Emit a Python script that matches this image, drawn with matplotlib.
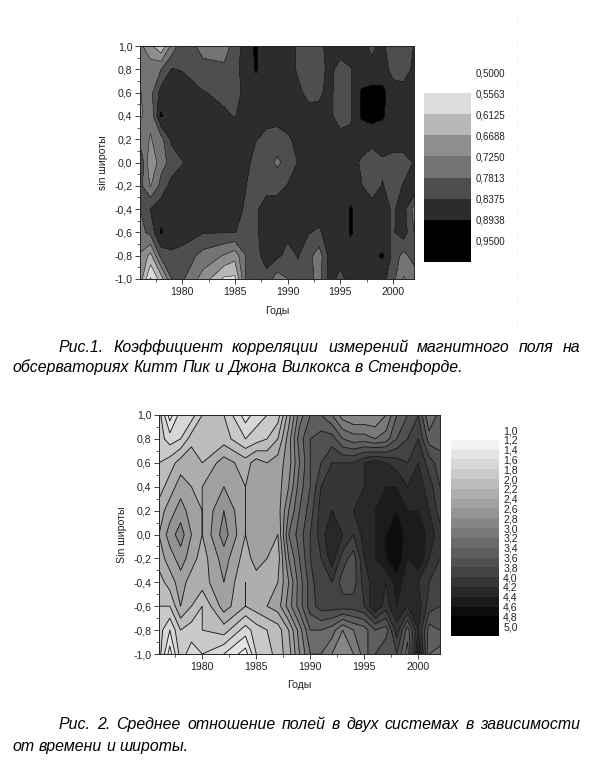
import numpy as np
import matplotlib
matplotlib.use("Agg")
import matplotlib.pyplot as plt
from matplotlib.colors import BoundaryNorm, ListedColormap

W, H = 592, 764

years = [1976, 1977, 1978, 1979, 1980, 1982, 1984, 1985, 1986, 1987, 1988, 1989, 1990,
         1991, 1992, 1993, 1994, 1995, 1996, 1997, 1998, 1999, 2000, 2001, 2002]
sin_lat = [1.0, 0.8, 0.6, 0.4, 0.2, 0.0, -0.2, -0.4, -0.6, -0.8, -1.0]

# Рис.1 - коэффициент корреляции
corr_rows = [
    [.74, .68, .62, .74, .82, .76, .76, .80, .87, .90, .86, .86, .86, .83, .81, .82, .86, .86, .86, .86, .82, .86, .78, .78, .84],
    [.74, .76, .78, .84, .835, .80, .79, .82, .86, .90, .86, .86, .86, .83, .81, .82, .85, .82, .835, .86, .86, .86, .82, .81, .85],
    [.72, .76, .86, .88, .86, .84, .825, .82, .85, .86, .86, .86, .86, .85, .82, .83, .85, .81, .83, .90, .91, .91, .86, .86, .86],
    [.72, .74, .90, .86, .86, .86, .845, .835, .86, .86, .86, .86, .86, .86, .86, .85, .85, .81, .83, .90, .91, .90, .865, .86, .86],
    [.76, .72, .76, .85, .86, .86, .86, .86, .86, .84, .82, .81, .83, .85, .86, .86, .86, .86, .85, .86, .86, .86, .86, .86, .84],
    [.84, .67, .76, .80, .835, .86, .86, .86, .86, .81, .81, .77, .80, .84, .86, .86, .86, .86, .86, .83, .80, .83, .82, .82, .84],
    [.80, .72, .80, .86, .86, .86, .87, .86, .84, .81, .82, .82, .84, .86, .86, .86, .86, .86, .86, .84, .81, .84, .82, .84, .89],
    [.78, .84, .87, .86, .86, .86, .88, .86, .83, .83, .86, .86, .86, .86, .86, .86, .86, .86, .90, .86, .86, .86, .83, .86, .76],
    [.76, .80, .90, .86, .86, .84, .84, .84, .81, .83, .86, .86, .85, .845, .84, .83, .86, .86, .90, .86, .86, .86, .83, .87, .78],
    [.72, .65, .80, .83, .82, .76, .72, .69, .78, .82, .86, .85, .82, .84, .80, .75, .86, .86, .86, .87, .88, .90, .82, .76, .81],
    [.70, .55, .64, .78, .79, .70, .60, .60, .78, .83, .82, .75, .78, .82, .80, .76, .86, .82, .86, .86, .86, .86, .80, .72, .74],
]
corr_levels = [0.5, 0.5563, 0.6125, 0.6688, 0.725, 0.7813, 0.8375, 0.8938, 0.95]
corr_labels = ["0,5000", "0,5563", "0,6125", "0,6688", "0,7250", "0,7813", "0,8375", "0,8938", "0,9500"]
corr_colors = ["#ffffff", "#dcdcdc", "#b8b8b8", "#8e8e8e", "#747474", "#4e4e4e", "#2c2c2c", "#000000"]

# Рис.2 - среднее отношение полей
ratio_rows = [
    [1.9, 1.3, 1.7, 1.7, 2.0, 2.0, 1.5, 1.7, 1.8, 1.9, 2.5, 3.1, 3.4, 3.4, 3.2, 2.9, 2.8, 2.8, 2.8, 3.0, 3.4, 3.6, 3.8, 3.2, 3.5],
    [1.9, 1.7, 1.8, 2.1, 2.2, 2.1, 1.8, 1.9, 2.0, 2.2, 2.7, 3.3, 3.6, 3.7, 3.7, 3.4, 3.3, 3.3, 3.2, 3.3, 3.6, 3.8, 4.0, 3.5, 3.5],
    [2.0, 2.1, 2.3, 2.4, 2.2, 2.5, 2.3, 2.5, 2.4, 2.5, 2.7, 3.2, 3.6, 3.8, 4.0, 4.0, 4.0, 4.2, 4.3, 4.2, 4.1, 4.0, 4.2, 3.9, 3.7],
    [2.1, 2.3, 2.5, 2.4, 2.4, 2.6, 2.4, 2.5, 2.5, 2.5, 2.8, 3.3, 3.6, 4.0, 4.1, 4.1, 4.2, 4.2, 4.3, 4.4, 4.4, 4.2, 4.3, 4.1, 3.8],
    [2.3, 2.5, 2.7, 2.5, 2.4, 2.8, 2.4, 2.5, 2.6, 2.5, 3.0, 3.4, 3.7, 4.1, 4.2, 4.2, 4.2, 4.3, 4.4, 4.5, 4.6, 4.4, 4.4, 4.2, 3.9],
    [2.4, 2.7, 2.9, 2.6, 2.4, 2.9, 2.4, 2.5, 2.6, 2.4, 3.2, 3.5, 3.8, 4.1, 4.4, 4.2, 4.0, 4.3, 4.4, 4.6, 4.8, 4.5, 4.6, 4.3, 4.1],
    [2.3, 2.5, 2.7, 2.5, 2.3, 2.7, 2.3, 2.5, 2.4, 2.3, 3.0, 3.4, 3.8, 4.0, 4.3, 3.9, 3.7, 4.2, 4.4, 4.6, 4.8, 4.4, 4.6, 4.2, 4.0],
    [2.1, 2.3, 2.5, 2.3, 2.3, 2.6, 2.2, 2.3, 2.4, 2.4, 2.8, 3.3, 3.7, 4.0, 4.0, 3.7, 3.7, 4.1, 4.3, 4.2, 4.5, 4.3, 4.2, 4.0, 3.9],
    [2.0, 2.0, 2.4, 2.2, 2.0, 2.5, 2.2, 2.3, 2.4, 2.5, 2.9, 3.3, 3.7, 3.9, 3.9, 3.9, 3.9, 4.0, 4.4, 4.1, 4.4, 4.2, 4.3, 3.9, 3.8],
    [1.9, 1.6, 2.0, 1.9, 2.0, 2.1, 1.7, 1.9, 2.0, 2.1, 2.4, 2.9, 3.4, 3.4, 3.3, 3.0, 3.2, 3.3, 3.6, 3.5, 4.1, 3.5, 4.2, 3.5, 3.6],
    [1.9, 1.3, 1.9, 1.7, 1.8, 1.6, 1.3, 1.8, 1.9, 2.1, 2.3, 2.8, 3.2, 3.2, 3.0, 2.8, 3.0, 3.3, 3.6, 3.8, 3.8, 3.3, 4.5, 3.4, 3.3],
]
ratio_levels = [1.0, 1.2, 1.4, 1.6, 1.8, 2.0, 2.2, 2.4, 2.6, 2.8, 3.0, 3.2, 3.4, 3.6, 3.8, 4.0, 4.2, 4.4, 4.6, 4.8, 5.0]
ratio_labels = [f"{v:.1f}".replace(".", ",") for v in ratio_levels]

year_ticks = [1980, 1985, 1990, 1995, 2000]
lat_ticks = [-1.0, -0.8, -0.6, -0.4, -0.2, 0.0, 0.2, 0.4, 0.6, 0.8, 1.0]

plt.rcParams["font.family"] = ["Liberation Sans", "DejaVu Sans"]
fig = plt.figure(figsize=(W / 100, H / 100), dpi=100)
fig.patch.set_facecolor("white")


def px_axes(x0, y0, x1, y1):
    # координаты в пикселях картинки, y сверху вниз
    return fig.add_axes([x0 / W, 1 - y1 / H, (x1 - x0) / W, (y1 - y0) / H])


def style_map(ax, ylabel, label_x, xlabel_y):
    ax.set_xlim(1976, 2002)
    ax.set_ylim(-1, 1)
    ax.set_xticks(year_ticks)
    ax.set_xticks(np.arange(1977.5, 2002, 2.5), minor=True)
    ax.set_yticks(lat_ticks)
    ax.set_yticks(np.arange(-0.9, 1.0, 0.2), minor=True)
    ax.set_yticklabels([f"{v:.1f}".replace(".", ",") for v in lat_ticks])
    ax.tick_params(which="major", length=3.5, width=0.6, labelsize=7.6, pad=2, colors="#222222")
    ax.tick_params(which="minor", length=2, width=0.5, colors="#222222")
    for s in ax.spines.values():
        s.set_linewidth(0.7)
        s.set_color("#222222")
    box = ax.get_position()
    fig.text(label_x / W, box.y0 + box.height / 2, ylabel, rotation=90, ha="center", va="center",
             fontsize=7.6, color="#222222")
    fig.text(box.x0 + box.width / 2, 1 - xlabel_y / H, "Годы", ha="center", va="center",
             fontsize=7.6, color="#222222")


def level_bar(x0, y0, x1, y1, levels, labels, cmap, norm, size):
    # шкала: нижняя полоса продолжает последний уровень
    ax = px_axes(x0, y0, x1, y1)
    step = levels[-1] - levels[-2]
    edges = np.array(levels + [levels[-1] + step])
    ax.pcolormesh([0, 1], edges, np.array(levels)[:, None], cmap=cmap, norm=norm)
    ax.set_ylim(edges[-1], edges[0])
    ax.set_xticks([])
    ax.yaxis.tick_right()
    ax.set_yticks(levels)
    ax.set_yticklabels(labels)
    ax.tick_params(axis="y", length=0, labelsize=size, pad=3, colors="#222222")
    for s in ax.spines.values():
        s.set_visible(False)
    return ax


def justified(words, x0, x1, y, size=11.4):
    # строка по ширине: каждое слово ставим отдельно
    r = fig.canvas.get_renderer()
    items = [fig.text(x0 / W, 1 - y / H, w, fontsize=size, style="italic", color="black", va="baseline")
             for w in words]
    widths = [t.get_window_extent(r).width for t in items]
    gap = (x1 - x0 - sum(widths)) / max(len(words) - 1, 1)
    x = x0
    for t, w in zip(items, widths):
        t.set_x(x / W)
        x += w + gap


X, Y = np.meshgrid(years, sin_lat)

# верхний график
ax1 = px_axes(140, 46, 414, 279)
corr_cmap = ListedColormap(corr_colors)
corr_cmap.set_under(corr_colors[0])
corr_cmap.set_over(corr_colors[-1])
corr_norm = BoundaryNorm(corr_levels, corr_cmap.N)
ax1.contourf(X, Y, np.array(corr_rows), levels=corr_levels, cmap=corr_cmap, norm=corr_norm, extend="both")
ax1.contour(X, Y, np.array(corr_rows), levels=corr_levels, colors="#1a1a1a", linewidths=0.35)
style_map(ax1, "sin широты", 103, 311)
level_bar(424, 72, 471, 262, corr_levels, corr_labels, corr_cmap, corr_norm, 7.0)

# нижний график
ax2 = px_axes(159, 415, 440, 654)
ratio_cmap = plt.get_cmap("gray_r", len(ratio_levels) - 1)
ratio_norm = BoundaryNorm(ratio_levels, ratio_cmap.N)
ax2.contourf(X, Y, np.array(ratio_rows), levels=ratio_levels, cmap=ratio_cmap, norm=ratio_norm, extend="both")
ax2.contour(X, Y, np.array(ratio_rows), levels=ratio_levels, colors="#1e1e1e", linewidths=0.65)
style_map(ax2, "Sin широты", 122, 685)
level_bar(451, 430, 499, 636, ratio_levels, ratio_labels, ratio_cmap, ratio_norm, 7.6)

# подписи
fig.canvas.draw()
justified("Рис.1. Коэффициент корреляции измерений магнитного поля на".split(), 59, 580, 352)
justified("обсерваториях Китт Пик и Джона Вилкокса в Стенфорде.".split(), 12, 463, 372)
justified("Рис. 2. Среднее отношение полей в двух системах в зависимости".split(), 59, 580, 729)
justified("от времени и широты.".split(), 12, 188, 751)

# точечная линия рамки справа
fig.add_artist(plt.Line2D([517 / W, 517 / W], [1 - 10 / H, 1 - 335 / H], color="#cccccc", lw=0.6, ls=(0, (1, 6))))

fig.savefig("out.png", dpi=100)
